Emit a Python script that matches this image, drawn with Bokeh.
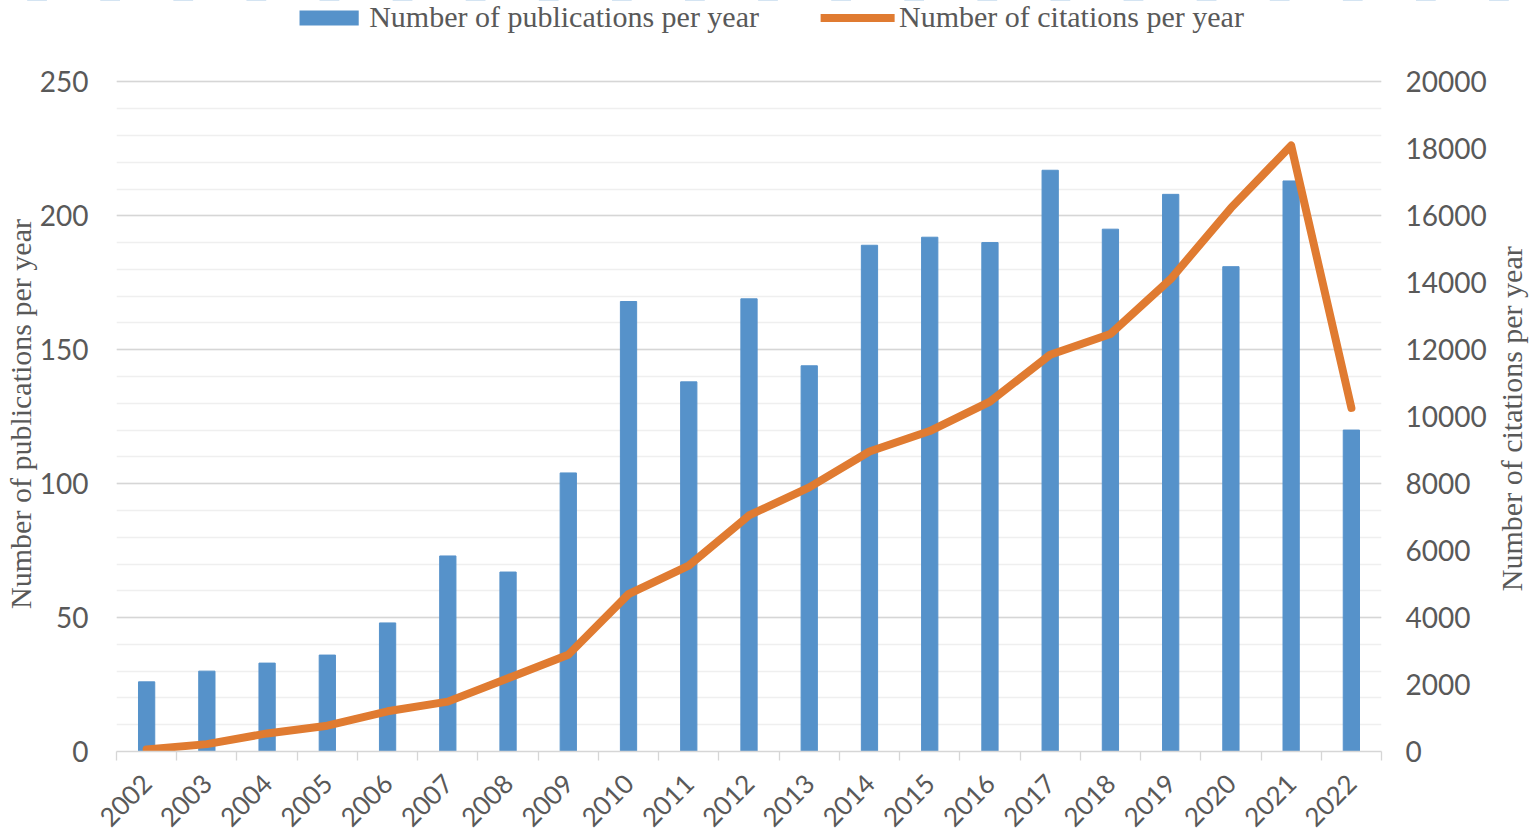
import math
from bokeh.plotting import figure
from bokeh.layouts import column, row
from bokeh.models import (Range1d, LinearAxis, SingleIntervalTicker, FixedTicker,
                          Legend, LegendItem, ColumnDataSource, Label)
from bokeh.embed import file_html
from bokeh.resources import INLINE

years = [str(y) for y in range(2002, 2023)]
publications = [26, 30, 33, 36, 48, 73, 67, 104, 168, 138, 169, 144,
                189, 192, 190, 217, 195, 208, 181, 213, 120]
citations = [60, 220, 540, 770, 1200, 1490, 2190, 2890, 4700, 5550, 7050, 7890,
             8960, 9570, 10450, 11850, 12470, 14110, 16230, 18100, 10260]
pub_ticks = [0, 50, 100, 150, 200, 250]
cit_ticks = [0, 2000, 4000, 6000, 8000, 10000, 12000, 14000, 16000, 18000, 20000]

BLUE = "#5692CA"
ORANGE = "#E07B31"
GRAY_TXT = "#595959"
TICK_FONT = "Lato"
SERIF = "Liberation Serif"

W, H = 1535, 839
TOP_H = 50          # legend strip
RT_W = 40           # right title strip
MAIN_W, MAIN_H = W - RT_W, H - TOP_H

n = len(years)
xpos = list(range(n))
src = ColumnDataSource(dict(x=xpos, year=years, pubs=publications, cites=citations))

# ---------------- main chart ----------------
head = 1.008  # tiny headroom so the top gridline is not clipped
p = figure(width=MAIN_W, height=MAIN_H, x_range=Range1d(-0.5, n - 0.5),
           y_range=Range1d(0, pub_ticks[-1] * head), output_backend="svg",
           toolbar_location=None, x_axis_location=None, y_axis_location="left",
           min_border_left=116, min_border_right=114, min_border_top=26,
           min_border_bottom=88)
p.outline_line_color = None
p.background_fill_color = "white"
p.border_fill_color = "white"
p.extra_y_ranges = {"cit": Range1d(0, cit_ticks[-1] * head)}

p.xgrid.grid_line_color = None
p.ygrid.ticker = SingleIntervalTicker(interval=50, num_minor_ticks=5)
p.ygrid.grid_line_color = "#D6D6D6"
p.ygrid.grid_line_width = 1.3
p.ygrid.minor_grid_line_color = "#EFEFEF"
p.ygrid.minor_grid_line_width = 1.3

ly = p.yaxis[0]
ly.ticker = FixedTicker(ticks=pub_ticks, minor_ticks=[])
ly.axis_line_color = None
ly.major_tick_line_color = None
ly.minor_tick_line_color = None
ly.major_label_standoff = 22
ly.major_label_text_font = TICK_FONT
ly.major_label_text_font_size = "28px"
ly.major_label_text_color = GRAY_TXT
ly.axis_label = "Number of publications per year"
ly.axis_label_text_font = SERIF
ly.axis_label_text_font_size = "30px"
ly.axis_label_text_font_style = "normal"
ly.axis_label_text_color = GRAY_TXT
ly.axis_label_standoff = 0

ry = LinearAxis(y_range_name="cit", ticker=FixedTicker(ticks=cit_ticks, minor_ticks=[]))
ry.axis_line_color = None
ry.major_tick_line_color = None
ry.minor_tick_line_color = None
ry.major_label_standoff = 18
ry.major_label_text_font = TICK_FONT
ry.major_label_text_font_size = "28px"
ry.major_label_text_color = GRAY_TXT
p.add_layout(ry, "right")

edge_ticks = [i - 0.5 for i in range(n + 1)]
bx = LinearAxis(ticker=FixedTicker(ticks=edge_ticks, minor_ticks=[]))
bx.axis_line_color = "#D6D6D6"
bx.axis_line_width = 1.3
bx.major_tick_line_color = "#D6D6D6"
bx.major_tick_line_width = 1.3
bx.major_tick_out = 9
bx.major_tick_in = 0
bx.minor_tick_line_color = None
bx.major_label_standoff = 0
bx.major_label_text_font_size = "0px"
bx.major_label_overrides = {t: "" for t in edge_ticks}
p.add_layout(bx, "below")

cx = LinearAxis(ticker=FixedTicker(ticks=xpos, minor_ticks=[]))
cx.major_label_overrides = {i: y for i, y in zip(xpos, years)}
cx.axis_line_color = None
cx.major_tick_line_color = None
cx.minor_tick_line_color = None
cx.major_label_orientation = math.pi / 4
cx.major_label_standoff = 12
cx.major_label_text_font = TICK_FONT
cx.major_label_text_font_size = "26px"
cx.major_label_text_color = GRAY_TXT
p.add_layout(cx, "below")

p.vbar(x="x", top="pubs", width=0.27, source=src, fill_color=BLUE, line_color=BLUE)
p.line(x="x", y="cites", source=src, y_range_name="cit",
       line_width=8, line_color=ORANGE, line_join="round", line_cap="round")

# ---------------- right axis title strip ----------------
rt = figure(width=RT_W, height=MAIN_H, x_range=Range1d(0, RT_W), y_range=Range1d(0, MAIN_H),
            output_backend="svg", toolbar_location=None,
            x_axis_location=None, y_axis_location=None, min_border=0)
rt.outline_line_color = None
rt.xgrid.grid_line_color = None
rt.ygrid.grid_line_color = None
rt.add_layout(Label(text="Number of citations per year", x=16,
                    y=MAIN_H - (416 - TOP_H) - 34,
                    angle=math.pi / 2, text_align="center", text_baseline="middle",
                    text_font=SERIF, text_font_size="30px", text_color=GRAY_TXT))

# ---------------- legend strip ----------------
# The same series are drawn here, but the view range lies below all values,
# so only their legend swatches are visible.
lg = figure(width=W, height=TOP_H, x_range=Range1d(-0.5, n - 0.5), y_range=Range1d(-2, -1),
            output_backend="svg", toolbar_location=None,
            x_axis_location=None, y_axis_location=None, min_border=0)
lg.outline_line_color = None
lg.xgrid.grid_line_color = None
lg.ygrid.grid_line_color = None
k_bar = lg.vbar(x="x", top="pubs", width=0.27, source=src, fill_color=BLUE, line_color=None)
k_line = lg.line(x="x", y="cites", source=src, line_width=8, line_color=ORANGE,
                 line_join="round", line_cap="round")
legend = Legend(items=[
    LegendItem(label="Number of publications per year", renderers=[k_bar]),
    LegendItem(label="Number of citations per year", renderers=[k_line]),
], orientation="horizontal", location="top_center")
legend.label_text_font = SERIF
legend.label_text_font_size = "30px"
legend.label_text_color = GRAY_TXT
legend.glyph_width = 74
legend.glyph_height = 19
legend.label_standoff = 4
legend.spacing = 62
legend.padding = 0
legend.margin = 0
legend.border_line_color = None
legend.background_fill_alpha = 0
lg.add_layout(legend, "center")

layout = column(lg, row(p, rt, spacing=0), spacing=0)
open("out.html", "w").write(file_html(layout, INLINE))
